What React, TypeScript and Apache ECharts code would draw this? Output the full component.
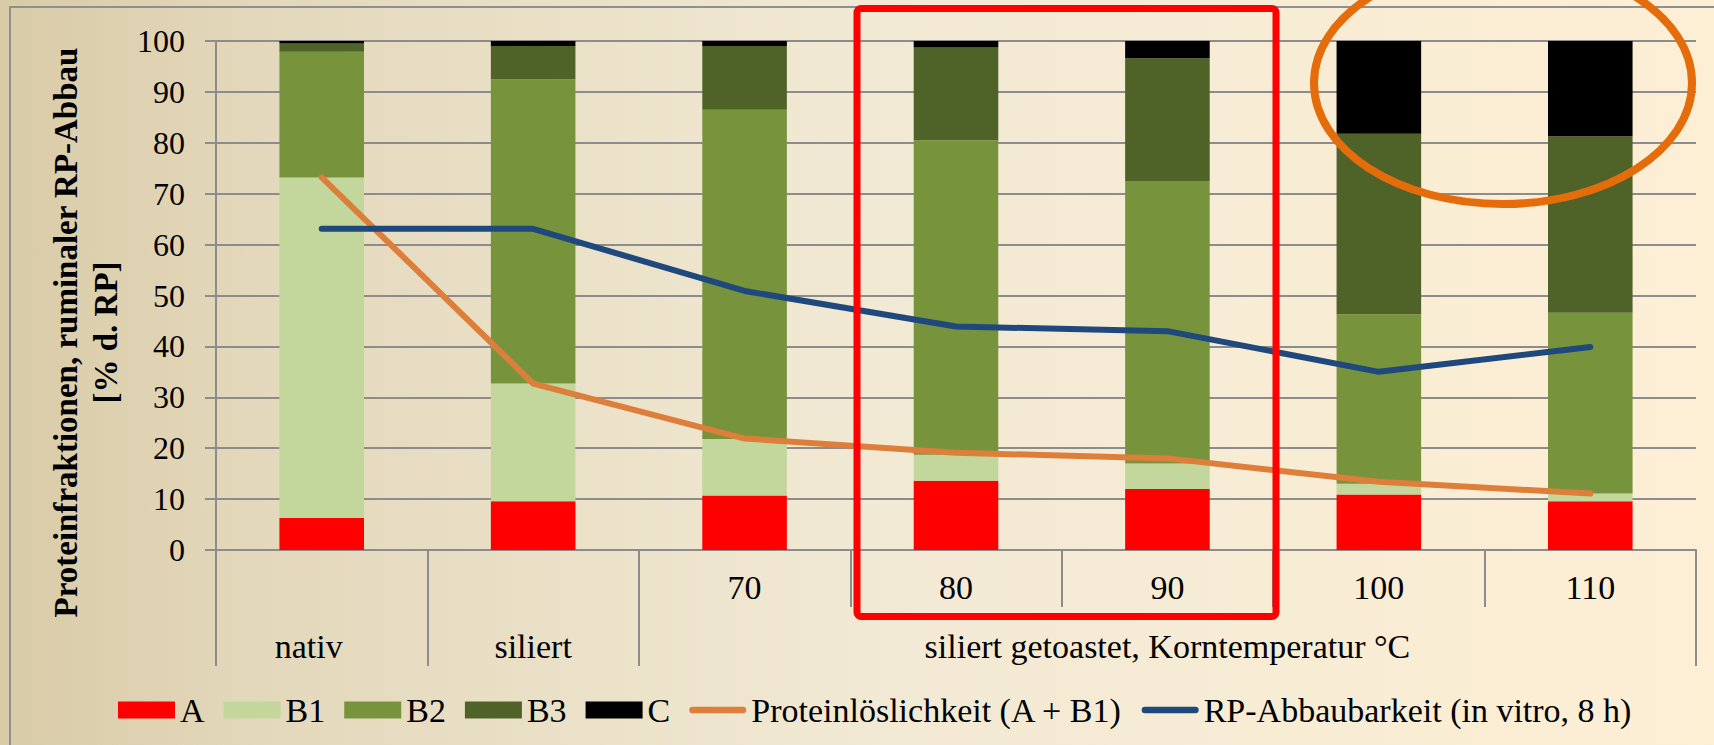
import React, { useEffect, useRef } from "react";
import * as echarts from "echarts";

const categories = ["", "", "70", "80", "90", "100", "110"];
const groupLabels = ["nativ", "siliert", "", "", "siliert getoastet, Korntemperatur °C", "", ""];
const fracA = [6.3, 9.6, 10.7, 13.6, 12.0, 10.9, 9.6];
const fracB1 = [66.9, 23.1, 11.1, 5.1, 5.0, 2.1, 1.5];
const fracB2 = [24.7, 59.8, 64.7, 61.8, 55.5, 33.3, 35.5];
const fracB3 = [1.6, 6.5, 12.5, 18.2, 24.1, 35.5, 34.7];
const fracC = [0.5, 1.0, 1.0, 1.3, 3.4, 18.2, 18.7];
const solubility = [73.2, 32.7, 21.9, 19.1, 18.0, 13.4, 11.1];
const degradability = [63.1, 63.1, 50.9, 43.9, 43.0, 35.0, 39.9];
const yTicks = { min: 0, max: 100, interval: 10 };

const FONT = "'Liberation Serif', 'Times New Roman', serif";
const GRAY = "#8c8c8c";
const LINE_ICON = "path://M0,0M60,17M3.5,5h53a3.5,3.5 0 0 1 0,7h-53a3.5,3.5 0 0 1 0,-7z";

export default function App() {
  const ref = useRef<HTMLDivElement>(null);
  useEffect(() => {
    if (!ref.current) return;
    const chart = echarts.init(ref.current, null, { renderer: "svg" });
    const barSeries = [
      { name: "A", data: fracA, color: "#ff0000" },
      { name: "B1", data: fracB1, color: "#c3d69b" },
      { name: "B2", data: fracB2, color: "#77933c" },
      { name: "B3", data: fracB3, color: "#4f6228" },
      { name: "C", data: fracC, color: "#000000" },
    ].map((s) => ({
      name: s.name,
      type: "bar",
      stack: "frac",
      data: s.data,
      barWidth: "40%",
      itemStyle: { color: s.color },
      xAxisIndex: 0,
      yAxisIndex: 0,
    }));
    const lineSeries = [
      { name: "Proteinlöslichkeit (A + B1)", data: solubility, color: "#dd7f3a" },
      { name: "RP-Abbaubarkeit (in vitro, 8 h)", data: degradability, color: "#1f497d" },
    ].map((s) => ({
      name: s.name,
      type: "line",
      data: s.data,
      symbol: "none",
      z: 5,
      itemStyle: { color: s.color },
      lineStyle: { color: s.color, width: 6, cap: "round", join: "round" },
      xAxisIndex: 0,
      yAxisIndex: 0,
    }));

    chart.setOption({
      animation: false,
      backgroundColor: {
        type: "linear",
        x: 0,
        y: 0,
        x2: 1,
        y2: 0,
        colorStops: [
          { offset: 0, color: "#d9cba7" },
          { offset: 0.15, color: "#e3d8bb" },
          { offset: 0.5, color: "#f2e9d4" },
          { offset: 1, color: "#fdefd4" },
        ],
      },
      textStyle: { fontFamily: FONT },
      grid: {
        left: 216,
        right: 18,
        top: 41,
        bottom: 195,
        containLabel: false,
        outerBoundsMode: "none",
      },
      legend: {
        left: 113,
        top: 688,
        itemWidth: 57,
        itemHeight: 17,
        itemGap: 19,
        textStyle: { fontFamily: FONT, fontSize: 34, color: "#000" },
        data: [
          { name: "A", icon: "rect" },
          { name: "B1", icon: "rect" },
          { name: "B2", icon: "rect" },
          { name: "B3", icon: "rect" },
          { name: "C", icon: "rect" },
          { name: "Proteinlöslichkeit (A + B1)", icon: LINE_ICON },
          { name: "RP-Abbaubarkeit (in vitro, 8 h)", icon: LINE_ICON },
        ],
      },
      xAxis: [
        {
          type: "category",
          data: categories,
          position: "bottom",
          axisLine: { show: true, lineStyle: { color: GRAY, width: 2 } },
          axisTick: { show: true, length: 57, interval: 0, lineStyle: { color: GRAY, width: 2 } },
          axisLabel: { interval: 0, margin: 20, fontSize: 34, color: "#000", fontFamily: FONT },
          splitLine: { show: false },
        },
        {
          type: "category",
          data: groupLabels,
          position: "bottom",
          axisLine: { show: false },
          axisTick: {
            show: true,
            length: 116,
            interval: (index: number) => index <= 2,
            lineStyle: { color: GRAY, width: 2 },
          },
          axisLabel: {
            interval: 0,
            margin: 79,
            fontSize: 34,
            color: "#000",
            fontFamily: FONT,
            formatter: (v: string) => (v === "nativ" ? "{n|" + v + "}" : v),
            rich: {
              n: { fontSize: 34, color: "#000", fontFamily: FONT, padding: [0, 26, 0, 0] },
            },
          },
          splitLine: { show: false },
        },
      ],
      yAxis: {
        type: "value",
        min: yTicks.min,
        max: yTicks.max,
        interval: yTicks.interval,
        axisLine: { show: true, lineStyle: { color: GRAY, width: 2 } },
        axisTick: { show: true, length: 11, lineStyle: { color: GRAY, width: 2 } },
        axisLabel: { margin: 31, fontSize: 32, color: "#000", fontFamily: FONT },
        splitLine: { show: true, lineStyle: { color: GRAY, width: 2 } },
        name: "Proteinfraktionen, ruminaler RP-Abbau\n[% d. RP]",
        nameLocation: "middle",
        nameRotate: 90,
        nameGap: 129,
        nameTextStyle: {
          fontFamily: FONT,
          fontSize: 33,
          fontWeight: "bold",
          color: "#000",
          lineHeight: 40,
          align: "center",
          verticalAlign: "middle",
          padding: [0, 74, 0, 0],
        },
      },
      series: [...barSeries, ...lineSeries],
      graphic: [
        {
          type: "rect",
          z: 0,
          silent: true,
          shape: { x: 10, y: 7, width: 1720, height: 760 },
          style: { fill: "none", stroke: "#8f8f8f", lineWidth: 2 },
        },
        {
          type: "rect",
          z: 100,
          silent: true,
          shape: { x: 857, y: 8.5, width: 419, height: 608, r: 4 },
          style: { fill: "none", stroke: "#ff0000", lineWidth: 7 },
        },
        {
          type: "ellipse",
          z: 100,
          silent: true,
          shape: { cx: 1503, cy: 83, rx: 189, ry: 121 },
          style: { fill: "none", stroke: "#e46c0a", lineWidth: 8 },
        },
      ],
    });
    return () => chart.dispose();
  }, []);
  return (
    <div
      ref={ref}
      style={{ position: "fixed", left: 0, top: 0, width: 1714, height: 745 }}
    />
  );
}
